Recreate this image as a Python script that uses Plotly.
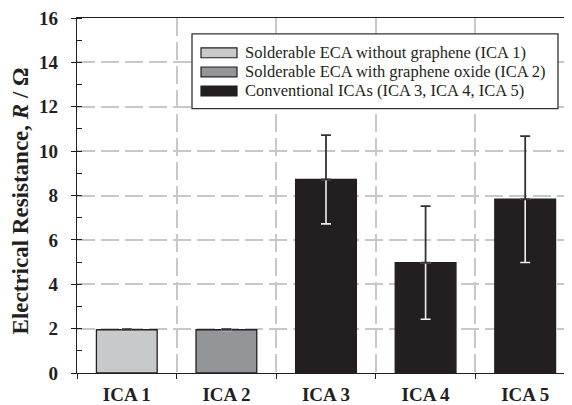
import plotly.graph_objects as go

categories = ["ICA 1", "ICA 2", "ICA 3", "ICA 4", "ICA 5"]
values = [1.95, 1.95, 8.72, 4.97, 7.83]
errors = [0.03, 0.03, 2.0, 2.55, 2.85]
bar_colors = ["#c8c9cb", "#939598", "#231f20", "#231f20", "#231f20"]
legend_labels = [
    "Solderable ECA without graphene (ICA 1)",
    "Solderable ECA with graphene oxide (ICA 2)",
    "Conventional ICAs (ICA 3, ICA 4, ICA 5)",
]
legend_colors = ["#c8c9cb", "#939598", "#231f20"]
y_ticks = [0, 2, 4, 6, 8, 10, 12, 14, 16]
y_title = "Electrical Resistance, <i>R</i> / Ω"

# page has an 8px body margin; figure is sized so the page is 572x405
OFF = 8
W, H = 572 - OFF, 405 - OFF
L, T, B, R = 77 - OFF, 17 - OFF, 28, 0
PW, PH = W - L - R, H - T - B

def px_x(p):  # page pixel -> paper fraction
    return (p - OFF - L) / PW

def px_y(p):
    return (H - B - (p - OFF)) / PH

FONT = "Liberation Serif"
DARK = "#231f20"

fig = go.Figure()
fig.add_trace(go.Bar(
    x=categories, y=values, width=0.61,
    marker=dict(color=bar_colors, line=dict(color=DARK, width=1.3)),
    showlegend=False, hoverinfo="skip",
))
# lower half of error bars (white, over dark bars)
fig.add_trace(go.Scatter(
    x=categories, y=values, mode="markers", marker=dict(size=0.1, opacity=0),
    error_y=dict(type="data", symmetric=False, array=[0]*len(values), arrayminus=errors,
                 color="#f0f0f0", thickness=1.6, width=5),
    showlegend=False, hoverinfo="skip",
))
# upper half of error bars (dark)
fig.add_trace(go.Scatter(
    x=categories, y=values, mode="markers", marker=dict(size=0.1, opacity=0),
    error_y=dict(type="data", symmetric=False, array=errors, arrayminus=[0]*len(values),
                 color="#333333", thickness=1.8, width=5),
    showlegend=False, hoverinfo="skip",
))

shapes = []
annotations = []
# legend box
shapes.append(dict(type="rect", xref="paper", yref="paper",
                   x0=px_x(192), x1=px_x(558), y0=px_y(109), y1=px_y(33),
                   line=dict(color="#333333", width=1.3), fillcolor="white", layer="above"))
row_centers = [52.3, 71.7, 91.0]
for lab, col, yc in zip(legend_labels, legend_colors, row_centers):
    shapes.append(dict(type="rect", xref="paper", yref="paper",
                       x0=px_x(201), x1=px_x(237), y0=px_y(yc + 5), y1=px_y(yc - 5),
                       line=dict(color=DARK, width=1.2), fillcolor=col, layer="above"))
    annotations.append(dict(xref="paper", yref="paper", x=px_x(244), y=px_y(yc),
                            xanchor="left", yanchor="middle", showarrow=False, text=lab,
                            borderpad=0,
                            font=dict(family=FONT, size=16.5, color=DARK)))
# y axis title
annotations.append(dict(xref="paper", yref="paper", x=px_x(20), y=px_y(203),
                        xanchor="center", yanchor="middle", showarrow=False,
                        textangle=-90, text=y_title,
                        font=dict(family=FONT, size=23, color=DARK, weight="bold")))

fig.update_layout(
    width=W, height=H,
    margin=dict(l=L, r=R, t=T, b=B),
    paper_bgcolor="white", plot_bgcolor="white",
    shapes=shapes, annotations=annotations,
    font=dict(family=FONT, color=DARK),
)
fig.update_xaxes(
    type="category", range=[-0.5, 4.47], tickson="boundaries",
    showline=True, linecolor=DARK, linewidth=1.3, mirror=True,
    ticks="outside", ticklen=5, tickcolor=DARK, tickwidth=1.3,
    showgrid=True, gridcolor="#c8c8c8", gridwidth=1.5, griddash="18px,6px",
    tickfont=dict(family=FONT, size=19, color=DARK, weight="bold"),
    ticklabelstandoff=4,
)
fig.update_yaxes(
    range=[0, 16], tickvals=y_ticks, ticktext=[str(v) for v in y_ticks],
    showline=True, linecolor=DARK, linewidth=1.3,
    ticks="outside", ticklen=5, tickcolor=DARK, tickwidth=1.3,
    minor=dict(ticks="inside", dtick=1, tick0=0, ticklen=5, tickcolor=DARK, tickwidth=1.3, showgrid=False),
    showgrid=True, gridcolor="#c8c8c8", gridwidth=1.5, griddash="18px,6px",
    tickfont=dict(family=FONT, size=19, color=DARK, weight="bold"),
    ticklabelstandoff=9, ticklabeloverflow="allow",
    zeroline=False,
)

fig.write_html("out.html")
